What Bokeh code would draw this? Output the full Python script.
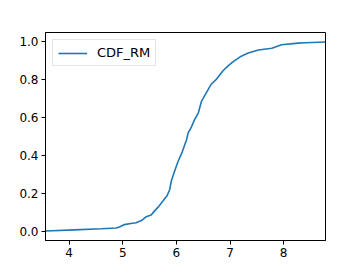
from bokeh.plotting import figure
from bokeh.models import Range1d, FixedTicker, PrintfTickFormatter, Legend, LegendItem
from bokeh.embed import file_html
from bokeh.resources import INLINE

# Data: sorted RM values and cumulative fraction
rm_values = [3.561, 4.10, 4.60, 4.88, 4.95, 5.03, 5.15, 5.25, 5.35, 5.44, 5.53,
             5.59, 5.66, 5.75, 5.83, 5.875, 5.91, 5.97, 6.03, 6.11, 6.19, 6.22,
             6.28, 6.34, 6.41, 6.47, 6.56, 6.65, 6.75, 6.87, 6.97, 7.06, 7.21,
             7.34, 7.53, 7.78, 7.96, 8.27, 8.40, 8.78]
cdf_values = [0.002, 0.008, 0.014, 0.018, 0.025, 0.036, 0.042, 0.046, 0.057, 0.078,
              0.087, 0.107, 0.128, 0.160, 0.190, 0.220, 0.270, 0.320, 0.368, 0.420,
              0.484, 0.520, 0.551, 0.590, 0.626, 0.688, 0.733, 0.777, 0.804, 0.848,
              0.875, 0.896, 0.925, 0.942, 0.958, 0.967, 0.985, 0.994, 0.996, 1.000]
x_ticks = [4, 5, 6, 7, 8]
y_ticks = [0.0, 0.2, 0.4, 0.6, 0.8, 1.0]
series_name = "CDF_RM"

p = figure(width=360, height=270, output_backend="svg", toolbar_location=None,
           x_range=Range1d(3.561, 8.78), y_range=Range1d(-0.048, 1.05),
           min_border_left=45, min_border_right=35, min_border_top=32,
           min_border_bottom=30)
p.background_fill_color = "white"
p.border_fill_color = "white"
p.outline_line_color = "black"
p.outline_line_alpha = 1.0
p.outline_line_width = 1
p.xgrid.visible = False
p.ygrid.visible = False

r = p.line(rm_values, cdf_values, line_color="#1f77b4", line_width=1.6)

for ax in (p.xaxis[0], p.yaxis[0]):
    ax.axis_line_color = "black"
    ax.major_tick_line_color = "black"
    ax.major_tick_out = 4
    ax.major_tick_in = 0
    ax.minor_tick_line_color = None
    ax.major_label_text_font = "DejaVu Sans"
    ax.major_label_text_font_size = "12px"
    ax.major_label_text_color = "black"
    ax.major_label_standoff = 3

p.xaxis[0].ticker = FixedTicker(ticks=x_ticks)
p.xaxis[0].formatter = PrintfTickFormatter(format="%d")
p.yaxis[0].ticker = FixedTicker(ticks=y_ticks)
p.yaxis[0].formatter = PrintfTickFormatter(format="%.1f")

legend = Legend(items=[LegendItem(label=series_name, renderers=[r])],
                location="top_left")
legend.label_text_font = "DejaVu Sans"
legend.label_text_font_size = "13px"
legend.label_text_color = "black"
legend.glyph_width = 29
legend.glyph_height = 14
legend.label_standoff = 10
legend.padding = 5
legend.margin = 7
legend.border_line_color = "#cccccc"
legend.border_line_width = 1
legend.background_fill_alpha = 0.8
p.add_layout(legend)

open("out.html", "w").write(file_html(p, INLINE))
